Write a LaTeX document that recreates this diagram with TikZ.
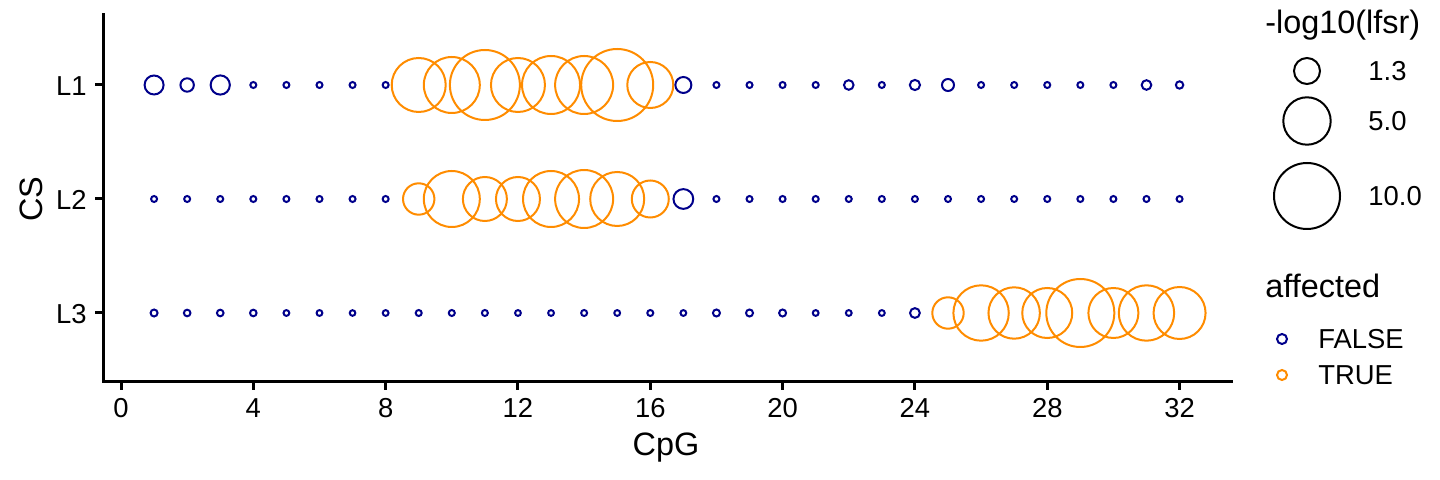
\documentclass[tikz,border=0pt]{standalone}
\usepackage{fontspec}
\setmainfont{Liberation Sans}
\definecolor{fb}{HTML}{00008B}
\definecolor{tr}{HTML}{FF8C00}
\tikzset{
  bub/.style={line width=1pt},
  axisline/.style={line width=1.5pt, line cap=rect},
  ticklab/.style={font=\fontsize{13.7pt}{16pt}\selectfont, inner sep=0pt},
  ttl/.style={font=\fontsize{16.2pt}{19pt}\selectfont, inner sep=0pt},
}
\begin{document}
\begin{tikzpicture}[x=0.5pt,y=-0.5pt]
\useasboundingbox (0,0) rectangle (1440,480);
% axes
\coordinate (o) at (103,382);
\coordinate (yt) at (103,15);
\coordinate (xr) at (1231,382);
\draw[axisline] (yt) -- (o) -- (xr);
% x ticks
\foreach \v in {0,4,...,32} {
  \coordinate (xt\v) at ({121+\v*33.08},382);
  \draw[line width=1.5pt] (xt\v) -- ++(0,8);
  \node[ticklab, anchor=base] (xl\v) at ({121+\v*33.08},418) {\v};
}
% y ticks
\foreach \n/\y in {1/85,2/199,3/313} {
  \coordinate (yt\n) at (103,\y);
  \draw[line width=1.5pt] (yt\n) -- ++(-8,0);
  \node[ticklab, anchor=base east] (yl\n) at (87,{\y+10.5}) {L\n};
}
\node[ttl, anchor=base] (xtitle) at (666,456) {CpG};
\node[ttl, anchor=base, rotate=90] (ytitle) at (42,199) {CS};
% bubbles L1
\foreach \x/\r/\c in {1/10.5/fb,2/7.7/fb,3/10.6/fb,4/4/fb,5/4/fb,6/4/fb,7/4/fb,8/4/fb,
  9/28/tr,10/29/tr,11/36/tr,12/28/tr,13/30/tr,14/30/tr,15/37/tr,16/24/tr,17/9/fb,
  18/4/fb,19/4/fb,20/4/fb,21/4/fb,22/5.8/fb,23/4/fb,24/6.1/fb,25/7/fb,26/4/fb,27/4/fb,
  28/4/fb,29/4/fb,30/4/fb,31/5.8/fb,32/4.7/fb} {
  \draw[bub, \c] ({121+\x*33.08},85) circle[radius={(\r-1)*0.5pt}];
}
% bubbles L2
\foreach \x/\r/\c in {1/4/fb,2/4/fb,3/4/fb,4/4/fb,5/4/fb,6/4/fb,7/4/fb,8/4/fb,
  9/16.7/tr,10/29/tr,11/23/tr,12/23/tr,13/29/tr,14/30/tr,15/28/tr,16/19.5/tr,17/10.9/fb,
  18/4/fb,19/4/fb,20/4/fb,21/4/fb,22/4/fb,23/4/fb,24/4/fb,25/4/fb,26/4/fb,27/4/fb,
  28/4/fb,29/4/fb,30/4/fb,31/4/fb,32/4/fb} {
  \draw[bub, \c] ({121+\x*33.08},199) circle[radius={(\r-1)*0.5pt}];
}
% bubbles L3
\foreach \x/\r/\c in {1/4.5/fb,2/4.3/fb,3/4.3/fb,4/4.3/fb,5/3.9/fb,6/3.9/fb,7/3.8/fb,8/3.9/fb,
  9/4/fb,10/4/fb,11/4/fb,12/3.9/fb,13/3.9/fb,14/4/fb,15/3.9/fb,16/4/fb,17/3.9/fb,
  18/4.5/fb,19/4.5/fb,20/4.5/fb,21/3.9/fb,22/3.9/fb,23/3.9/fb,24/5.9/fb,
  25/16.7/tr,26/28.7/tr,27/26.7/tr,28/26/tr,29/35/tr,30/26/tr,31/28.7/tr,32/27/tr} {
  \draw[bub, \c] ({121+\x*33.08},313) circle[radius={(\r-1)*0.5pt}];
}
% legend: size
\node[ttl, anchor=base west] (lt1) at (1265,34) {-log10(lfsr)};
\foreach \n/\y/\r/\t in {a/71/14/1.3, b/121/24.7/5.0, c/196/34/10.0} {
  \draw[bub, black] (1307,\y) circle[radius={(\r-1)*0.5pt}];
  \node[ticklab, anchor=base west] (ls\n) at (1368,{\y+10}) {\t};
}
% legend: affected
\node[ttl, anchor=base west] (lt2) at (1265,298) {affected};
\draw[bub, fb] (1282,339) circle[radius={(6-1)*0.5pt}];
\node[ticklab, anchor=base west] (lf) at (1318,348.5) {FALSE};
\draw[bub, tr] (1282,375) circle[radius={(6-1)*0.5pt}];
\node[ticklab, anchor=base west] (ltr) at (1318,384.5) {TRUE};
\end{tikzpicture}
\end{document}
